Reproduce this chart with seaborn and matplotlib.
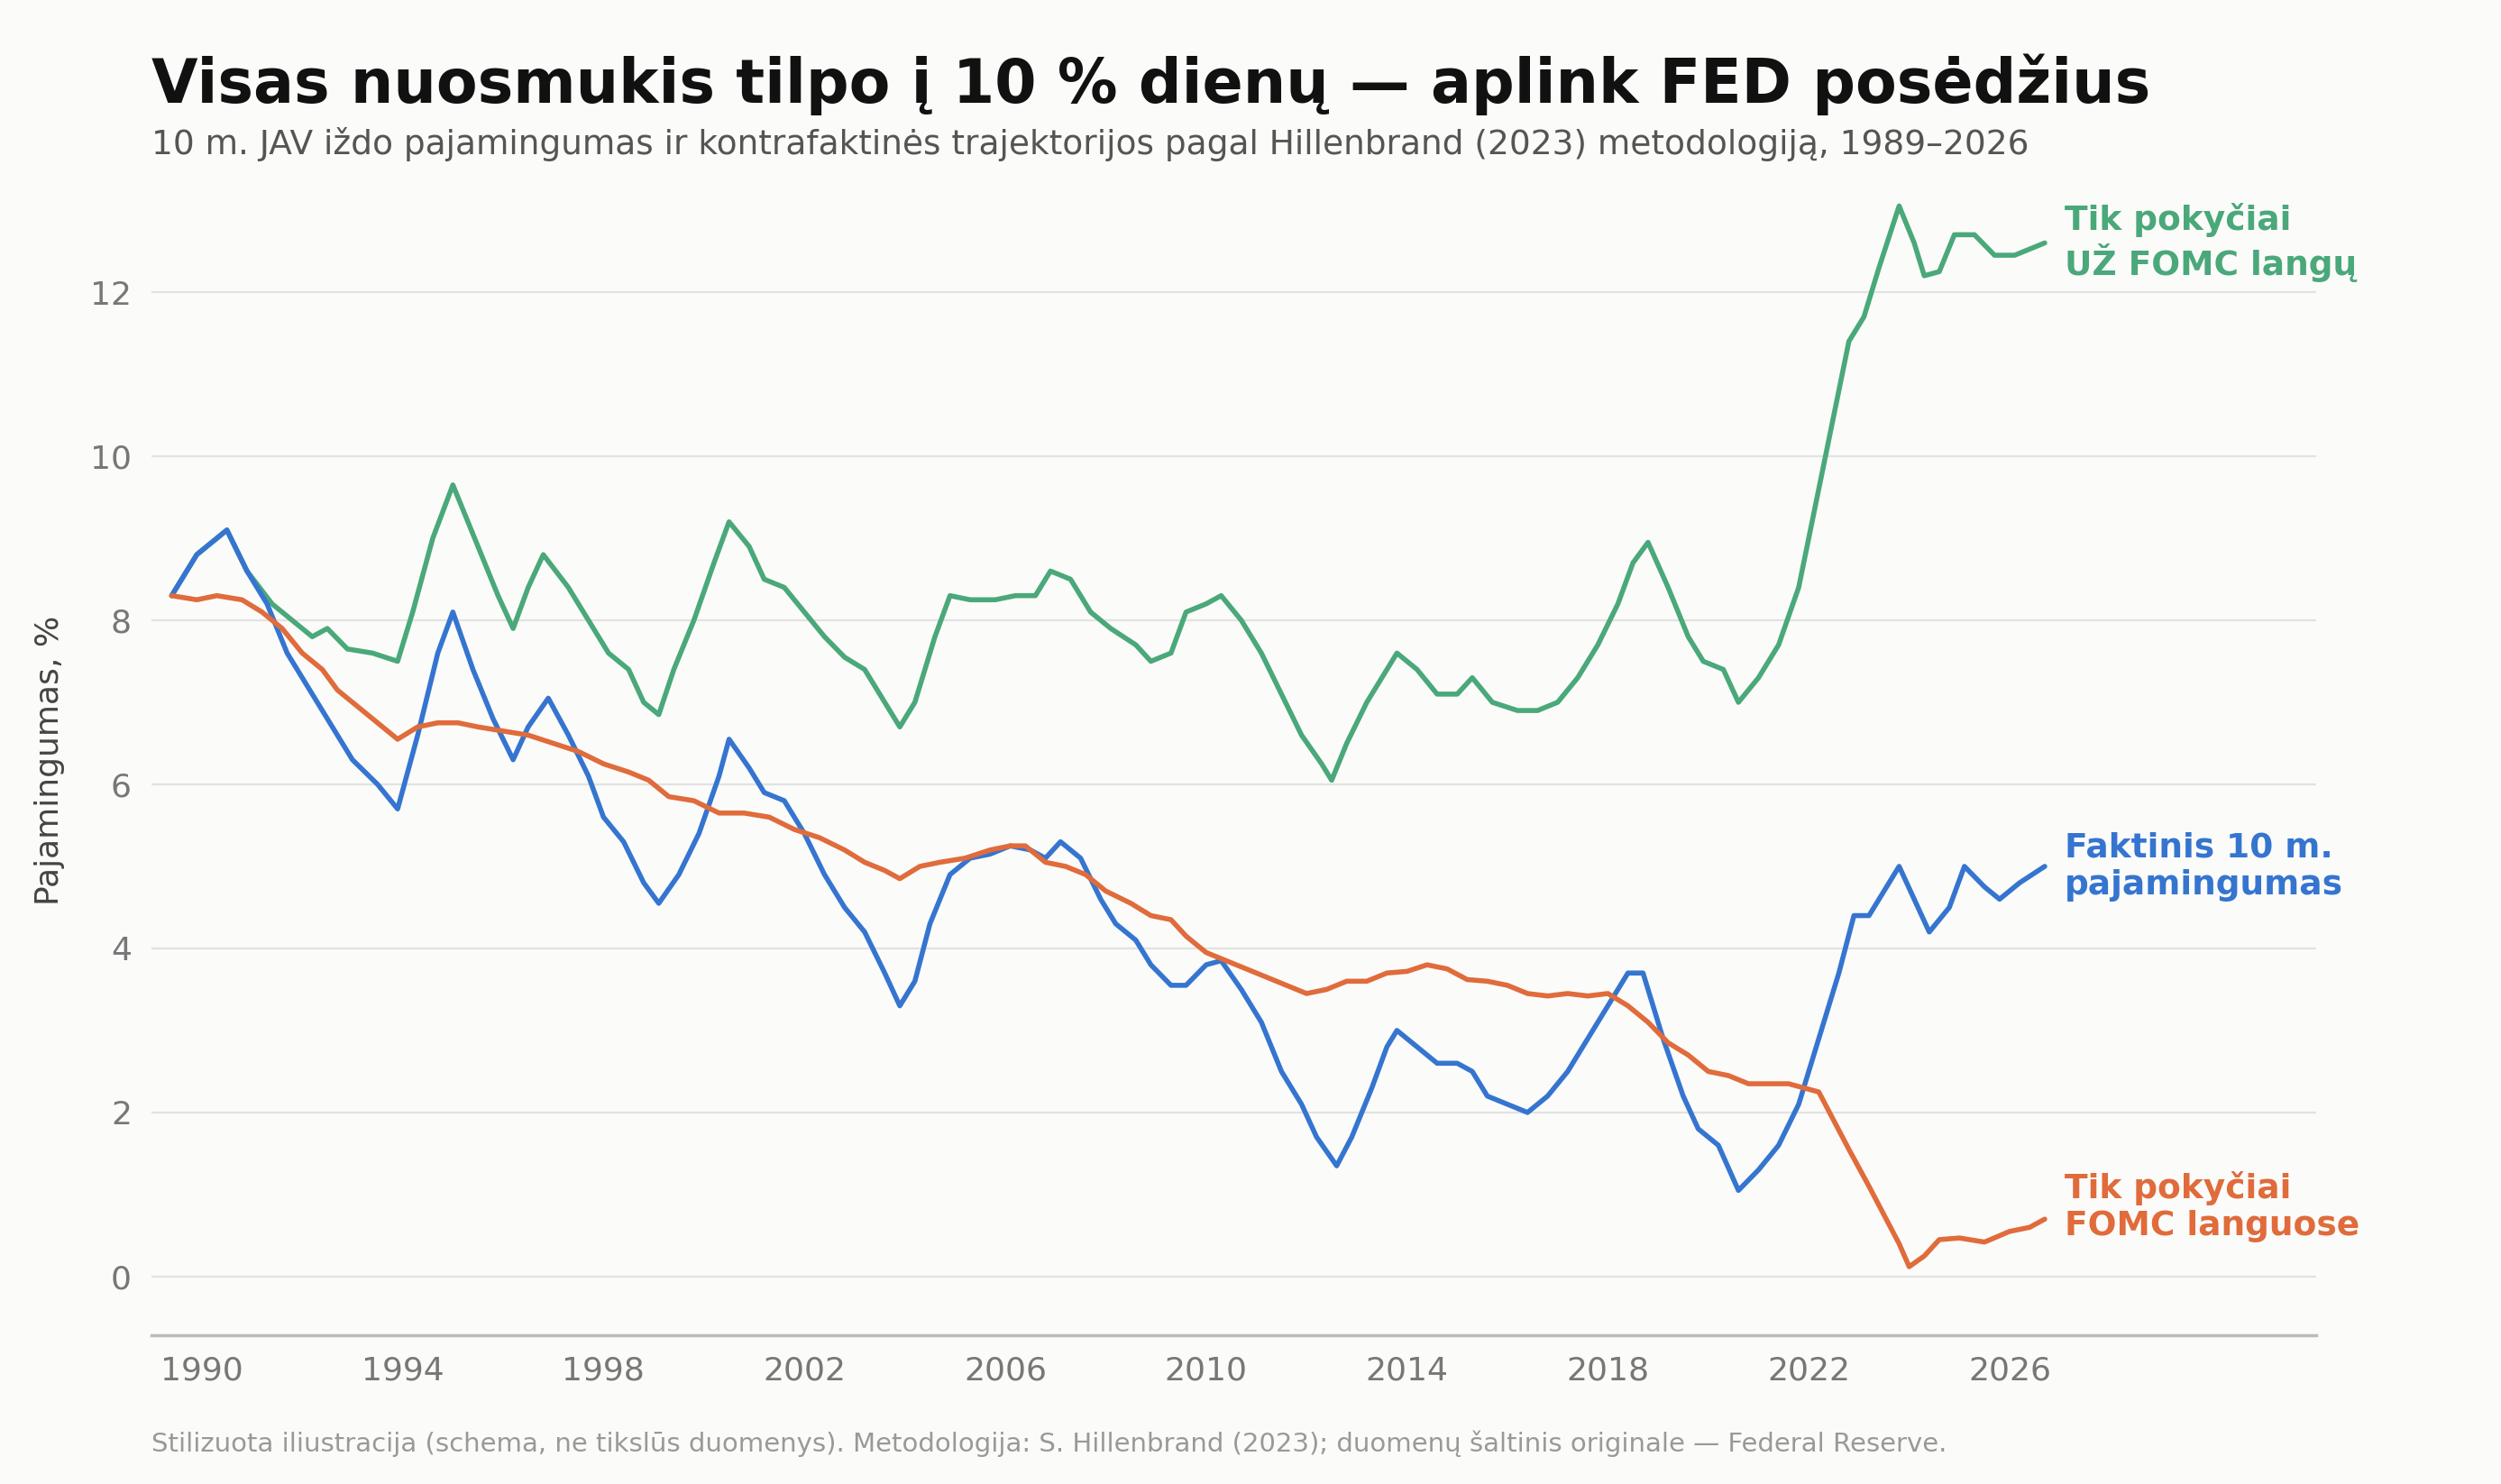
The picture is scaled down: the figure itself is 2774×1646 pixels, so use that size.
import numpy as np
import pandas as pd
import seaborn as sns
from matplotlib import pyplot as plt

BLUE = '#3575d0'
GREEN = '#4aa87a'
ORANGE = '#e06b3b'

actual_x = [1989.4, 1989.9, 1990.5, 1990.9, 1991.3, 1991.7, 1992.3, 1992.7, 1993.0, 1993.5, 1993.9,
            1994.3, 1994.7, 1995.0, 1995.4, 1995.8, 1996.2, 1996.5, 1996.9, 1997.3, 1997.7, 1998.0,
            1998.4, 1998.8, 1999.1, 1999.5, 1999.9, 2000.3, 2000.5, 2000.9, 2001.2, 2001.6, 2002.0,
            2002.4, 2002.8, 2003.2, 2003.6, 2003.9, 2004.2, 2004.5, 2004.9, 2005.3, 2005.7, 2006.1,
            2006.5, 2006.8, 2007.1, 2007.5, 2007.9, 2008.2, 2008.6, 2008.9, 2009.3, 2009.6, 2010.0,
            2010.3, 2010.7, 2011.1, 2011.5, 2011.9, 2012.2, 2012.6, 2012.9, 2013.3, 2013.6, 2013.8,
            2014.2, 2014.6, 2015.0, 2015.3, 2015.6, 2016.0, 2016.4, 2016.8, 2017.2, 2017.6, 2018.0,
            2018.4, 2018.7, 2019.1, 2019.5, 2019.8, 2020.2, 2020.6, 2021.0, 2021.4, 2021.8, 2022.2,
            2022.6, 2022.9, 2023.2, 2023.6, 2023.8, 2024.1, 2024.4, 2024.8, 2025.1, 2025.5, 2025.8,
            2026.2, 2026.7]
actual_y = [8.3, 8.8, 9.1, 8.6, 8.2, 7.6, 7.0, 6.6, 6.3, 6.0, 5.7,
            6.6, 7.6, 8.1, 7.4, 6.8, 6.3, 6.7, 7.05, 6.6, 6.1, 5.6,
            5.3, 4.8, 4.55, 4.9, 5.4, 6.1, 6.55, 6.2, 5.9, 5.8, 5.4,
            4.9, 4.5, 4.2, 3.7, 3.3, 3.6, 4.3, 4.9, 5.1, 5.15, 5.25,
            5.2, 5.1, 5.3, 5.1, 4.6, 4.3, 4.1, 3.8, 3.55, 3.55, 3.8,
            3.85, 3.5, 3.1, 2.5, 2.1, 1.7, 1.35, 1.7, 2.3, 2.8, 3.0,
            2.8, 2.6, 2.6, 2.5, 2.2, 2.1, 2.0, 2.2, 2.5, 2.9, 3.3,
            3.7, 3.7, 2.9, 2.2, 1.8, 1.6, 1.05, 1.3, 1.6, 2.1, 2.9,
            3.7, 4.4, 4.4, 4.8, 5.0, 4.6, 4.2, 4.5, 5.0, 4.75, 4.6,
            4.8, 5.0]

outside_x = [1989.4, 1989.9, 1990.5, 1990.9, 1991.4, 1991.8, 1992.2, 1992.5, 1992.9, 1993.4, 1993.9,
             1994.2, 1994.6, 1995.0, 1995.5, 1995.9, 1996.2, 1996.5, 1996.8, 1997.3, 1997.7, 1998.1,
             1998.5, 1998.8, 1999.1, 1999.4, 1999.8, 2000.2, 2000.5, 2000.9, 2001.2, 2001.6, 2002.0,
             2002.4, 2002.8, 2003.2, 2003.6, 2003.9, 2004.2, 2004.6, 2004.9, 2005.3, 2005.8, 2006.2,
             2006.6, 2006.9, 2007.3, 2007.7, 2008.1, 2008.6, 2008.9, 2009.3, 2009.6, 2010.0, 2010.3,
             2010.7, 2011.1, 2011.5, 2011.9, 2012.3, 2012.5, 2012.8, 2013.2, 2013.6, 2013.8, 2014.2,
             2014.6, 2015.0, 2015.3, 2015.7, 2016.2, 2016.6, 2017.0, 2017.4, 2017.8, 2018.2, 2018.5,
             2018.8, 2019.2, 2019.6, 2019.9, 2020.3, 2020.6, 2021.0, 2021.4, 2021.8, 2022.1, 2022.4,
             2022.8, 2023.1, 2023.4, 2023.8, 2024.1, 2024.3, 2024.6, 2024.9, 2025.3, 2025.7, 2026.1,
             2026.7]
outside_y = [8.3, 8.8, 9.1, 8.6, 8.2, 8.0, 7.8, 7.9, 7.65, 7.6, 7.5,
             8.1, 9.0, 9.65, 8.9, 8.3, 7.9, 8.4, 8.8, 8.4, 8.0, 7.6,
             7.4, 7.0, 6.85, 7.4, 8.0, 8.7, 9.2, 8.9, 8.5, 8.4, 8.1,
             7.8, 7.55, 7.4, 7.0, 6.7, 7.0, 7.8, 8.3, 8.25, 8.25, 8.3,
             8.3, 8.6, 8.5, 8.1, 7.9, 7.7, 7.5, 7.6, 8.1, 8.2, 8.3,
             8.0, 7.6, 7.1, 6.6, 6.25, 6.05, 6.5, 7.0, 7.4, 7.6, 7.4,
             7.1, 7.1, 7.3, 7.0, 6.9, 6.9, 7.0, 7.3, 7.7, 8.2, 8.7,
             8.95, 8.4, 7.8, 7.5, 7.4, 7.0, 7.3, 7.7, 8.4, 9.3, 10.2,
             11.4, 11.7, 12.3, 13.05, 12.6, 12.2, 12.25, 12.7, 12.7, 12.45, 12.45,
             12.6]

inside_x = [1989.4, 1989.9, 1990.3, 1990.8, 1991.2, 1991.6, 1992.0, 1992.4, 1992.7, 1993.1, 1993.5,
            1993.9, 1994.3, 1994.7, 1995.1, 1995.5, 1996.0, 1996.5, 1997.0, 1997.5, 1998.0, 1998.5,
            1998.9, 1999.3, 1999.8, 2000.3, 2000.8, 2001.3, 2001.8, 2002.3, 2002.8, 2003.2, 2003.6,
            2003.9, 2004.3, 2004.7, 2005.2, 2005.7, 2006.1, 2006.4, 2006.8, 2007.2, 2007.6, 2008.0,
            2008.5, 2008.9, 2009.3, 2009.6, 2010.0, 2010.4, 2010.8, 2011.2, 2011.6, 2012.0, 2012.4,
            2012.8, 2013.2, 2013.6, 2014.0, 2014.4, 2014.8, 2015.2, 2015.6, 2016.0, 2016.4, 2016.8,
            2017.2, 2017.6, 2018.0, 2018.4, 2018.8, 2019.2, 2019.6, 2020.0, 2020.4, 2020.8, 2021.2,
            2021.6, 2021.9, 2022.2, 2022.5, 2022.8, 2023.2, 2023.5, 2023.8, 2024.0, 2024.3, 2024.6,
            2025.0, 2025.5, 2026.0, 2026.4, 2026.7]
inside_y = [8.3, 8.25, 8.3, 8.25, 8.1, 7.9, 7.6, 7.4, 7.15, 6.95, 6.75,
            6.55, 6.7, 6.75, 6.75, 6.7, 6.65, 6.6, 6.5, 6.4, 6.25, 6.15,
            6.05, 5.85, 5.8, 5.65, 5.65, 5.6, 5.45, 5.35, 5.2, 5.05, 4.95,
            4.85, 5.0, 5.05, 5.1, 5.2, 5.25, 5.25, 5.05, 5.0, 4.9, 4.7,
            4.55, 4.4, 4.35, 4.15, 3.95, 3.85, 3.75, 3.65, 3.55, 3.45, 3.5,
            3.6, 3.6, 3.7, 3.72, 3.8, 3.75, 3.62, 3.6, 3.55, 3.45, 3.42,
            3.45, 3.42, 3.45, 3.3, 3.1, 2.85, 2.7, 2.5, 2.45, 2.35, 2.35,
            2.35, 2.3, 2.25, 1.9, 1.55, 1.1, 0.75, 0.4, 0.12, 0.25, 0.45,
            0.47, 0.42, 0.55, 0.6, 0.7]

labels = ['Tik pokyčiai\nUŽ FOMC langų', 'Faktinis 10 m.\npajamingumas', 'Tik pokyčiai\nFOMC languose']

sns.set_theme(style='white')
plt.rcParams['font.family'] = ['DejaVu Sans']

fig = plt.figure(figsize=(13.87, 8.23), dpi=200, facecolor='#fbfbf9')
ax = fig.add_axes([0.0606, 0.1, 0.8654, 0.775], facecolor='#fbfbf9')

for xs, ys, c in [(outside_x, outside_y, GREEN), (actual_x, actual_y, BLUE), (inside_x, inside_y, ORANGE)]:
    sns.lineplot(x=xs, y=ys, color=c, linewidth=2.0, ax=ax)

ax.set_xlim(1989.0, 2032.1)
ax.set_ylim(-0.72, 13.3)
ax.set_xticks(range(1990, 2027, 4))
ax.set_yticks(range(0, 13, 2))
ax.tick_params(axis='both', length=0, labelsize=13, labelcolor='#777777', pad=8)
ax.yaxis.grid(True, color='#e2e2e2', linewidth=0.8)
for s in ['top', 'right', 'left']:
    ax.spines[s].set_visible(False)
ax.spines['bottom'].set_color('#bbbbbb')
ax.set_ylabel('Pajamingumas, %', fontsize=13, color='#444444', labelpad=10)

ax.text(2027.1, 12.6, labels[0], color=GREEN, fontsize=13.5, fontweight='bold', va='center')
ax.text(2027.1, 5.0, labels[1], color=BLUE, fontsize=13.5, fontweight='bold', va='center')
ax.text(2027.1, 0.85, labels[2], color=ORANGE, fontsize=13.5, fontweight='bold', va='center')

fig.text(0.0606, 0.943, 'Visas nuosmukis tilpo į 10 % dienų — aplink FED posėdžius',
         fontsize=24, fontweight='bold', color='#111111', va='center')
fig.text(0.0606, 0.903, '10 m. JAV iždo pajamingumas ir kontrafaktinės trajektorijos pagal Hillenbrand (2023) metodologiją, 1989–2026',
         fontsize=13.5, color='#555555', va='center')
fig.text(0.0606, 0.027, 'Stilizuota iliustracija (schema, ne tikslūs duomenys). Metodologija: S. Hillenbrand (2023); duomenų šaltinis originale — Federal Reserve.',
         fontsize=10.5, color='#999999', va='center')

fig.savefig('out.png', dpi=200, facecolor=fig.get_facecolor())
